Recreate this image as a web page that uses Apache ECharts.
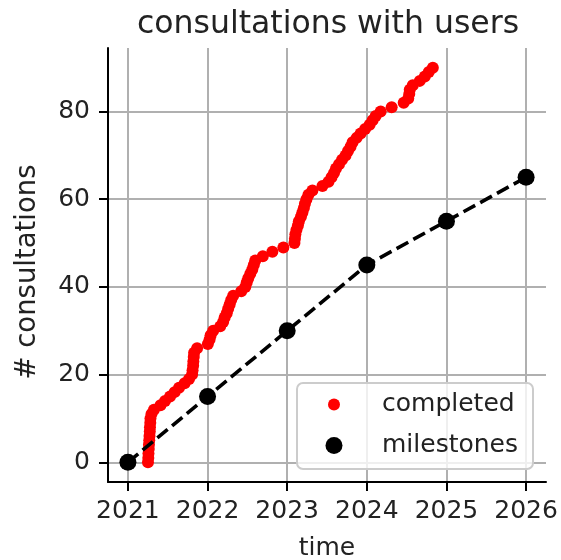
<!DOCTYPE html>
<html><head><meta charset="utf-8">
<script src="https://cdn.jsdelivr.net/npm/echarts@6/dist/echarts.min.js"></script>
<style>html,body{margin:0;padding:0;background:#fff}#c{width:561px;height:560px}</style>
</head><body><div id="c"></div>
<script>
// decimal-year date at which each cumulative consultation count was reached
const completedDates = [
  2021.252, 2021.256, 2021.258, 2021.262, 2021.264, 2021.268, 2021.271, 2021.275, 2021.277, 2021.281,
  2021.283, 2021.296, 2021.327, 2021.409, 2021.466, 2021.529, 2021.586, 2021.642, 2021.712, 2021.768,
  2021.806, 2021.812, 2021.819, 2021.822, 2021.827, 2021.831, 2021.869, 2022.004, 2022.026, 2022.039,
  2022.071, 2022.159, 2022.196, 2022.215, 2022.241, 2022.259, 2022.278, 2022.297, 2022.322, 2022.423,
  2022.474, 2022.492, 2022.511, 2022.537, 2022.562, 2022.581, 2022.599, 2022.694, 2022.814, 2022.952,
  2023.091, 2023.097, 2023.103, 2023.116, 2023.135, 2023.147, 2023.173, 2023.191, 2023.210, 2023.223,
  2023.242, 2023.267, 2023.317, 2023.443, 2023.519, 2023.557, 2023.588, 2023.613, 2023.651, 2023.689,
  2023.733, 2023.764, 2023.796, 2023.821, 2023.872, 2023.922, 2023.979, 2024.035, 2024.073, 2024.111,
  2024.174, 2024.312, 2024.463, 2024.520, 2024.533, 2024.539, 2024.577, 2024.665, 2024.728, 2024.778,
  2024.829
];
const completedCounts = [
  0, 1, 2, 3, 4, 5, 6, 7, 8, 9,
  10, 11, 12, 13, 14, 15, 16, 17, 18, 19,
  20, 21, 22, 23, 24, 25, 26, 27, 28, 29,
  30, 31, 32, 33, 34, 35, 36, 37, 38, 39,
  40, 41, 42, 43, 44, 45, 46, 47, 48, 49,
  50, 51, 52, 53, 54, 55, 56, 57, 58, 59,
  60, 61, 62, 63, 64, 65, 66, 67, 68, 69,
  70, 71, 72, 73, 74, 75, 76, 77, 78, 79,
  80, 81, 82, 83, 84, 85, 86, 87, 88, 89,
  90
];
const milestoneYears = [2021, 2022, 2023, 2024, 2025, 2026];
const milestoneValues = [0, 15, 30, 45, 55, 65];
const xTicks = [2021, 2022, 2023, 2024, 2025, 2026];
const yTicks = [0, 20, 40, 60, 80];

const FONT = 'DejaVu Sans';
const TXT = '#222';

const completedData = completedDates.map((d, i) => [d, completedCounts[i]]);
const milestoneData = milestoneYears.map((d, i) => [d, milestoneValues[i]]);

const chart = echarts.init(document.getElementById('c'), null, {renderer: 'canvas'});
chart.setOption({
  animation: false,
  backgroundColor: '#fff',
  title: {
    text: 'consultations with users',
    left: 137, top: 9, padding: 0,
    textStyle: {fontFamily: FONT, fontSize: 31.5, fontWeight: 'normal', color: TXT}
  },
  grid: {left: 108, right: 15, top: 48, bottom: 78, containLabel: false, outerBoundsMode: 'none'},
  xAxis: {
    type: 'value', min: 2020.75, max: 2026.25,
    name: 'time', nameLocation: 'middle', nameGap: 54,
    nameTextStyle: {fontFamily: FONT, fontSize: 25, color: TXT},
    axisLine: {show: true, onZero: false, lineStyle: {color: '#000', width: 2}},
    axisTick: {show: true, inside: false, length: 9, lineStyle: {color: '#000', width: 2}, customValues: xTicks},
    axisLabel: {fontFamily: FONT, fontSize: 25, color: TXT, margin: 17, customValues: xTicks, formatter: v => String(Math.round(v))},
    splitLine: {show: true, lineStyle: {color: '#b0b0b0', width: 2}}
  },
  yAxis: {
    type: 'value', min: -4.5, max: 94.5,
    name: '# consultations', nameLocation: 'middle', nameGap: 66, nameRotate: 90,
    nameTextStyle: {fontFamily: FONT, fontSize: 27.5, color: TXT, padding: [0, 14, 0, 0]},
    axisLine: {show: true, onZero: false, lineStyle: {color: '#000', width: 2}},
    axisTick: {show: true, inside: false, length: 9, lineStyle: {color: '#000', width: 2}, customValues: yTicks},
    axisLabel: {fontFamily: FONT, fontSize: 25, color: TXT, margin: 18, customValues: yTicks},
    splitLine: {show: true, lineStyle: {color: '#b0b0b0', width: 2}}
  },
  graphic: [{
    type: 'rect', z: 3, silent: true,
    shape: {x: 297, y: 383, width: 236, height: 86, r: 6},
    style: {fill: 'rgba(255,255,255,0.8)', stroke: '#cccccc', lineWidth: 2}
  }],
  legend: [{
    data: [{name: 'completed', icon: 'circle'}],
    left: 328, top: 392, padding: 0, itemWidth: 12, itemHeight: 12, z: 5,
    formatter: '{t|{name}}',
    textStyle: {fontFamily: FONT, fontSize: 25, color: TXT, lineHeight: 24,
      rich: {t: {fontFamily: FONT, fontSize: 25, color: TXT, lineHeight: 24, padding: [0, 0, 0, 37]}}}
  }, {
    data: [{name: 'milestones', icon: 'circle'}],
    left: 325.5, top: 433, padding: 0, itemWidth: 17, itemHeight: 17, z: 5,
    formatter: '{t|{name}}',
    textStyle: {fontFamily: FONT, fontSize: 25, color: TXT, lineHeight: 24,
      rich: {t: {fontFamily: FONT, fontSize: 25, color: TXT, lineHeight: 24, padding: [0, 0, 0, 34.5]}}}
  }],
  series: [{
    name: 'completed', type: 'scatter', data: completedData,
    symbol: 'circle', symbolSize: 12, itemStyle: {color: '#ff0000', opacity: 1}, z: 2
  }, {
    name: 'milestones', type: 'line', data: milestoneData,
    symbol: 'circle', symbolSize: 17, showSymbol: true,
    itemStyle: {color: '#000', opacity: 1},
    lineStyle: {color: '#000', width: 3.6, type: [13.3, 5.8]}, z: 3
  }]
});
</script></body></html>
